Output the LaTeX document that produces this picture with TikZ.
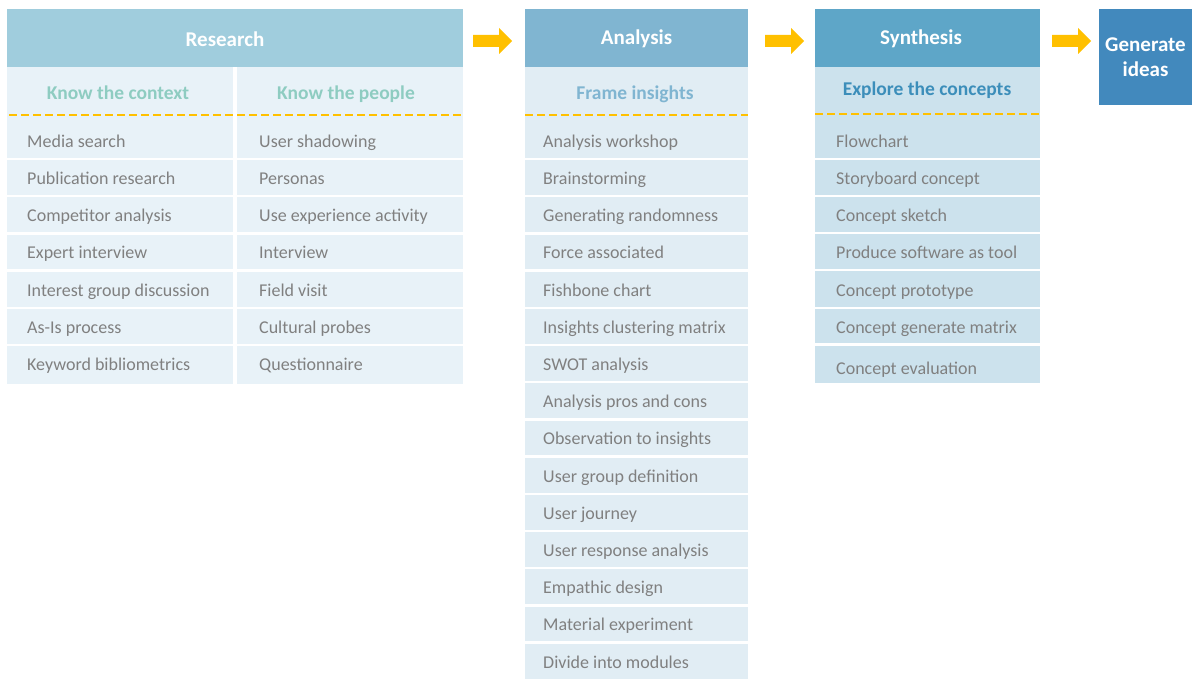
\documentclass[tikz,border=0pt]{standalone}
\usepackage{fontspec}
\setmainfont{Carlito}
\definecolor{resH}{HTML}{A0CDDD}
\definecolor{anaH}{HTML}{80B5D1}
\definecolor{synH}{HTML}{5EA6C8}
\definecolor{genH}{HTML}{4289BD}
\definecolor{resB}{HTML}{E8F2F8}
\definecolor{anaB}{HTML}{E1EDF4}
\definecolor{synB}{HTML}{CCE2ED}
\definecolor{resS}{HTML}{8ECCC1}
\definecolor{anaS}{HTML}{80B5D1}
\definecolor{synS}{HTML}{3C8EBA}
\definecolor{itemT}{HTML}{808080}
\definecolor{arrY}{HTML}{FFC000}
\begin{document}
\begin{tikzpicture}[x=1pt,y=-1pt,
  hdr/.style={text=white,font=\fontsize{21}{24}\selectfont\bfseries,inner sep=0pt,anchor=mid},
  sub/.style={font=\fontsize{19.5}{22}\selectfont\bfseries,inner sep=0pt,anchor=mid},
  item/.style={text=itemT,font=\fontsize{18}{21}\selectfont,inner sep=0pt,anchor=mid west},
  sep/.style={draw=white,line width=2.5pt},
  yellowdash/.style={draw=arrY,line width=1.6pt,dash pattern=on 8pt off 4pt},
  blockarrow/.style={fill=arrY}]
\useasboundingbox (0,0) rectangle (1192,679);
% ---------- Research ----------
\fill[resH] (7,9) rectangle (463,67);
\fill[resB] (7,67) rectangle (463,384);
\node[hdr] (rh) at (225,44) {Research};
\node[sub,text=resS] (rs1) at (118,97) {Know the context};
\node[sub,text=resS] (rs2) at (346,97) {Know the people};
\foreach \t [count=\i] in {Media search,Publication research,Competitor analysis,Expert interview,Interest group discussion,As-Is process,Keyword bibliometrics}
  \node[item] (rl\i) at (27,{145+37.2*(\i-1)}) {\t};
\foreach \t [count=\i] in {User shadowing,Personas,Use experience activity,Interview,Field visit,Cultural probes,Questionnaire}
  \node[item] (rr\i) at (259,{145+37.2*(\i-1)}) {\t};
\foreach \i in {1,...,6}
  \draw[sep] (7,{159+37.2*(\i-1)}) -- (463,{159+37.2*(\i-1)});
\draw[draw=white,line width=4pt] (235,67) -- (235,384);
\draw[yellowdash] (9,115) -- (463,115);
% ---------- Analysis ----------
\fill[anaH] (525,9) rectangle (748,67);
\fill[anaB] (525,67) rectangle (748,679);
\node[hdr] (ah) at (636.5,42) {Analysis};
\node[sub,text=anaS] (as) at (635,97) {Frame insights};
\foreach \t [count=\i] in {Analysis workshop,Brainstorming,Generating randomness,Force associated,Fishbone chart,Insights clustering matrix,SWOT analysis,Analysis pros and cons,Observation to insights,User group definition,User journey,User response analysis,Empathic design,Material experiment,Divide into modules}
  \node[item] (a\i) at (543,{145+37.2*(\i-1)}) {\t};
\foreach \i in {1,...,14}
  \draw[sep] (525,{159+37.2*(\i-1)}) -- (748,{159+37.2*(\i-1)});
\draw[yellowdash] (525,115) -- (748,115);
% ---------- Synthesis ----------
\fill[synH] (815,9) rectangle (1040,67);
\fill[synB] (815,67) rectangle (1040,383);
\node[hdr] (sh) at (921,42) {Synthesis};
\node[sub,text=synS] (ss) at (927,93) {Explore the concepts};
\foreach \t/\yy [count=\i] in {Flowchart/145,Storyboard concept/182,Concept sketch/219,Produce software as tool/256,Concept prototype/294,Concept generate matrix/331,Concept evaluation/372}
  \node[item] (s\i) at (836,\yy) {\t};
\foreach \yy in {159,196,233,270,308,344.5}
  \draw[sep] (815,\yy) -- (1040,\yy);
\draw[yellowdash] (815,114) -- (1040,114);
% ---------- Generate ideas ----------
\node[fill=genH,minimum width=93pt,minimum height=96pt,inner sep=0pt,align=center,
  text=white,font=\fontsize{21}{25}\selectfont\bfseries] (g) at (1145.5,57) {Generate\\ideas};
% ---------- Arrows ----------
\foreach \n/\xs in {ar1/473,ar2/765,ar3/1052}{
  \coordinate (\n) at (\xs,41);
  \fill[blockarrow] (\n) ++(0,-6) -- ++(26,0) -- ++(0,-7) -- ++(13,13) -- ++(-13,13) -- ++(0,-7) -- ++(-26,0) -- cycle;
}
\end{tikzpicture}
\end{document}
